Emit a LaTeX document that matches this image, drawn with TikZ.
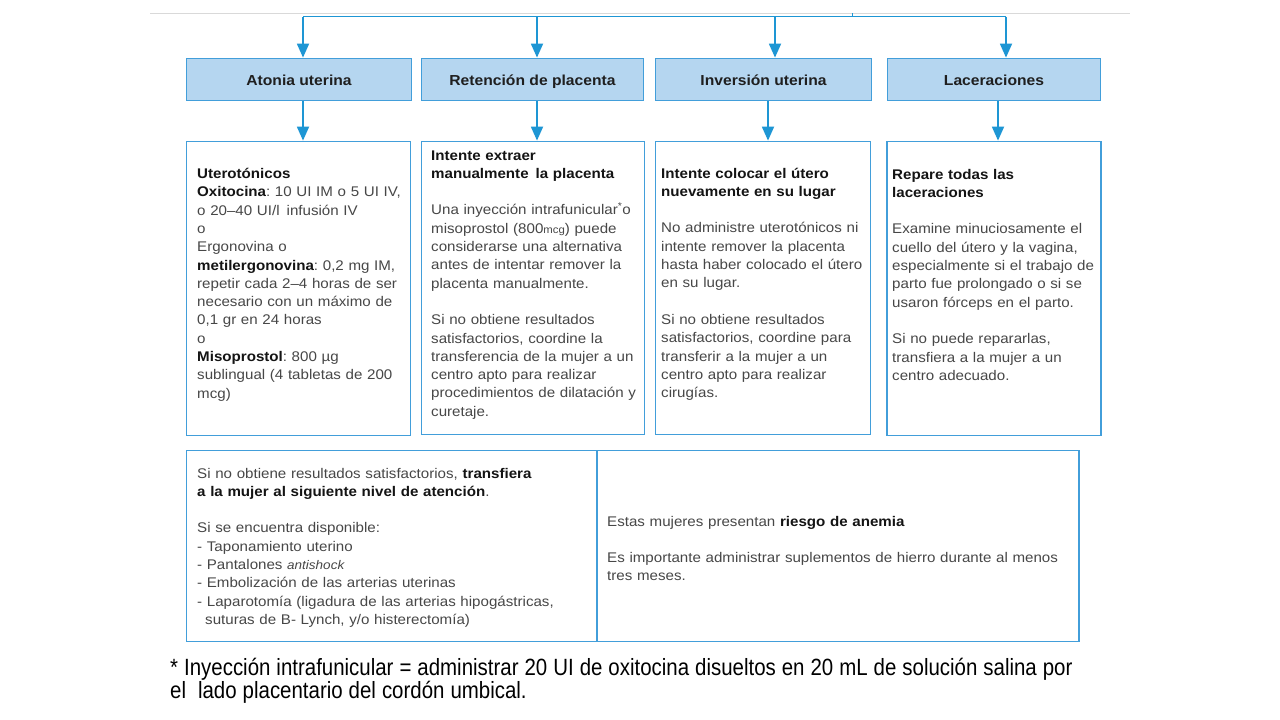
\documentclass[tikz,border=0pt]{standalone}
\usepackage{fontspec}
\setmainfont{Liberation Sans}
\newfontfamily\bodyfont[FakeStretch=1.08]{Liberation Sans}
\newfontfamily\narrowfont[FakeStretch=0.87]{Liberation Sans}
\usepackage{tikz}
\usetikzlibrary{arrows.meta}
\frenchspacing

\definecolor{arrblue}{RGB}{30,150,212}
\definecolor{boxline}{RGB}{66,158,218}
\definecolor{hdrfill}{RGB}{181,214,240}
\newcommand{\emb}[1]{\textbf{\color{black!92}#1}}

\begin{document}
\begin{tikzpicture}[
  x=1pt, y=-1pt,
  >=Triangle,
  hdrbox/.style={draw=boxline, fill=hdrfill, line width=1.8pt, minimum height=42, inner sep=0, text height=13, text depth=1, font=\bodyfont\bfseries\fontsize{14.5}{18}\selectfont, text=black!88},
  infobox/.style={draw=boxline, line width=1.8pt, inner sep=0},
  bodytxt/.style={anchor=base west, align=left, inner sep=0, text width=270, font=\bodyfont\fontsize{14}{18.3}\selectfont, text=black!72},
  note/.style={anchor=base west, align=left, inner sep=0, text width=1000, font=\narrowfont\fontsize{23.5}{23}\selectfont, text=black},
  arr/.style={draw=arrblue, line width=1.8pt, -{Triangle[length=14pt,width=12pt]}},
  bus/.style={draw=arrblue, line width=1.8pt}
]

% Page
\path[fill=white, use as bounding box] (0,0) rectangle (1280,720);
\draw[gray!30, line width=1pt] (150,13) -- (1130,13);

% Header boxes
\node[hdrbox, minimum width=225] (hAton) at (299,79.5) {Atonia uterina};
\node[hdrbox, minimum width=222] (hRet) at (532.5,79.5) {Retención de placenta};
\node[hdrbox, minimum width=216] (hInv) at (763.5,79.5) {Inversión uterina};
\node[hdrbox, minimum width=213] (hLac) at (994,79.5) {Laceraciones};

% Detail boxes
\node[infobox, minimum width=224, minimum height=294] (dAton) at (298.5,288.5) {};
\node[infobox, minimum width=223, minimum height=293] (dRet) at (533,288) {};
\node[infobox, minimum width=215, minimum height=293] (dInv) at (763,288) {};
\node[infobox, minimum width=214, minimum height=294] (dLac) at (994,288.5) {};

% Bottom boxes
\node[infobox, minimum width=410, minimum height=191] (bRef) at (391.5,546) {};
\node[infobox, minimum width=482, minimum height=191] (bAnem) at (838,546) {};

% Bus and arrows
\coordinate (busL) at (303,16.5);
\coordinate (busR) at (1006,16.5);
\draw[bus] (busL) -- (busR);
\draw[bus, line width=1pt] (852,13) -- (852,16.5);
\foreach \n/\tx/\bx in {Aton/303/303, Ret/537/537, Inv/775/768, Lac/1006/998} {
  \coordinate (top\n) at (\tx,16.5);
  \coordinate (low\n) at (\bx,0);
  \draw[arr] (top\n) -- (top\n |- h\n.north);
  \draw[arr] (h\n.south -| low\n) -- (d\n.north -| low\n);
}

% Texts
\node[bodytxt] (tAton) at (197,178.5) {
  \emb{Uterotónicos}\\
  \emb{Oxitocina}: 10 UI IM o 5 UI IV,\\
  o 20–40 UI/l\, infusión IV\\
  o\\
  Ergonovina o\\
  \emb{metilergonovina}: 0,2 mg IM,\\
  repetir cada 2–4 horas de ser\\
  necesario con un máximo de\\
  0,1 gr en 24 horas\\
  o\\
  \emb{Misoprostol}: 800 µg\\
  sublingual (4 tabletas de 200\\
  mcg)
};
\node[bodytxt] (tRet) at (431,160) {
  \emb{Intente extraer}\\
  \emb{manualmente\, la placenta}\\[18.3pt]
  Una inyección intrafunicular\textsuperscript{*}o\\
  misoprostol (800{\fontsize{10.5}{12}\selectfont mcg}) puede\\
  considerarse una alternativa\\
  antes de intentar remover la\\
  placenta manualmente.\\[18.3pt]
  Si no obtiene resultados\\
  satisfactorios, coordine la\\
  transferencia de la mujer a un\\
  centro apto para realizar\\
  procedimientos de dilatación y\\
  curetaje.
};
\node[bodytxt] (tInv) at (661,178) {
  \emb{Intente colocar el útero}\\
  \emb{nuevamente en su lugar}\\[18.3pt]
  No administre uterotónicos ni\\
  intente remover la placenta\\
  hasta haber colocado el útero\\
  en su lugar.\\[18.3pt]
  Si no obtiene resultados\\
  satisfactorios, coordine para\\
  transferir a la mujer a un\\
  centro apto para realizar\\
  cirugías.
};
\node[bodytxt] (tLac) at (892,179) {
  \emb{Repare todas las}\\
  \emb{laceraciones}\\[18.3pt]
  Examine minuciosamente el\\
  cuello del útero y la vagina,\\
  especialmente si el trabajo de\\
  parto fue prolongado o si se\\
  usaron fórceps en el parto.\\[18.3pt]
  Si no puede repararlas,\\
  transfiera a la mujer a un\\
  centro adecuado.
};
\node[bodytxt, text width=400] (tRef) at (197,478) {
  Si no obtiene resultados satisfactorios, \emb{transfiera}\\
  \emb{a la mujer al siguiente nivel de atención}.\\[18.3pt]
  Si se encuentra disponible:\\
  - Taponamiento uterino\\
  - Pantalones {\itshape\fontsize{12.5}{14}\selectfont antishock}\\
  - Embolización de las arterias uterinas\\
  - Laparotomía (ligadura de las arterias hipogástricas,\\
  \hspace*{8pt}suturas de B- Lynch, y/o histerectomía)
};
\node[bodytxt, text width=470] (tAnem) at (607,526) {
  Estas mujeres presentan \emb{riesgo de anemia}\\[18.3pt]
  Es importante administrar suplementos de hierro durante al menos\\
  tres meses.
};

% Footnote
\node[note] (fn) at (170,675) {\spaceskip=6pt
  * Inyección intrafunicular = administrar 20 UI de oxitocina disueltos en 20 mL de solución salina por\\
  el\ \ lado placentario del cordón umbical.
};

\end{tikzpicture}
\end{document}
